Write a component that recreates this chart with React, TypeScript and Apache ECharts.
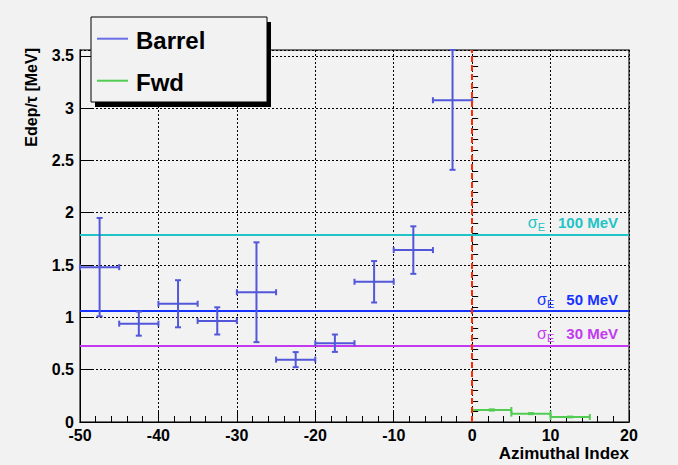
import React, { useEffect, useRef } from "react";
import * as echarts from "echarts";

// ---- data ----
const barrelX = [-47.5, -42.5, -37.5, -32.5, -27.5, -22.5, -17.5, -12.5, -7.5, -2.5];
const barrelY = [1.48, 0.94, 1.13, 0.966, 1.24, 0.596, 0.753, 1.34, 1.643, 3.075];
const barrelErr = [0.47, 0.115, 0.225, 0.13, 0.477, 0.072, 0.083, 0.198, 0.227, 0.665];
const fwdX = [2.5, 7.5, 12.5];
const fwdY = [0.115, 0.08, 0.048];
const fwdErr = [0.006, 0.005, 0.004];
const binHalfWidth = 2.5;

const sigmaLevels = [1.79, 1.065, 0.73];
const sigmaValues = ["100 MeV", "50 MeV", "30 MeV"];
const sigmaColors = ["#22c3c6", "#1733ff", "#c23af0"];

const xTicks = [-50, -40, -30, -20, -10, 0, 10, 20];
const yTicks = [0, 0.5, 1, 1.5, 2, 2.5, 3, 3.5];

const X_MIN = -50;
const X_MAX = 20;
const Y_MIN = 0;
const Y_MAX = 3.555;

const BARREL_COLOR = "#5257d9";
const FWD_COLOR = "#52cc52";
const FONT = "'Liberation Sans', Arial, Helvetica, sans-serif";

function errorBarRenderer(color: string) {
  return (params: any, api: any) => {
    const x = api.value(0);
    const y = api.value(1);
    const ex = api.value(2);
    const ey = api.value(3);
    const yTop = Math.min(y + ey, Y_MAX);
    const yBot = Math.max(y - ey, Y_MIN);
    const pL = api.coord([x - ex, y]);
    const pR = api.coord([x + ex, y]);
    const pT = api.coord([x, yTop]);
    const pB = api.coord([x, yBot]);
    const cap = 3;
    const style = { stroke: color, lineWidth: 2 };
    const seg = (x1: number, y1: number, x2: number, y2: number) => ({
      type: "line",
      shape: { x1, y1, x2, y2 },
      style,
    });
    return {
      type: "group",
      children: [
        seg(pL[0], pL[1], pR[0], pR[1]),
        seg(pT[0], pT[1], pB[0], pB[1]),
        seg(pL[0], pL[1] - cap, pL[0], pL[1] + cap),
        seg(pR[0], pR[1] - cap, pR[0], pR[1] + cap),
        seg(pT[0] - cap, pT[1], pT[0] + cap, pT[1]),
        seg(pB[0] - cap, pB[1], pB[0] + cap, pB[1]),
      ],
    };
  };
}

export default function App() {
  const ref = useRef<HTMLDivElement>(null);

  useEffect(() => {
    if (!ref.current) return;
    const chart = echarts.init(ref.current, undefined, { renderer: "svg" });

    const barrelData = barrelX.map((x, i) => [x, barrelY[i], binHalfWidth, barrelErr[i]]);
    const fwdData = fwdX.map((x, i) => [x, fwdY[i], binHalfWidth, fwdErr[i]]);

    const sigmaMarks = sigmaLevels.map((lvl, i) => ({
      yAxis: lvl,
      lineStyle: { color: sigmaColors[i], width: 2, type: "solid" },
      label: {
        show: true,
        position: "insideEndTop",
        distance: [11, 2],
        formatter: `{s|σ}{e|E}{v|${sigmaValues[i]}}`,
        rich: {
          s: { fontFamily: FONT, fontSize: 16, color: sigmaColors[i] },
          e: { fontFamily: FONT, fontSize: 11, color: sigmaColors[i], padding: [9, 0, 0, 0] },
          v: {
            fontFamily: FONT,
            fontSize: 15,
            fontWeight: "bold",
            color: sigmaColors[i],
            padding: [0, 0, 0, i === 0 ? 13 : 12],
          },
        },
      },
    }));

    const option: any = {
      animation: false,
      backgroundColor: "#f2f2f2",
      grid: {
        left: 80,
        right: 49,
        top: 50,
        bottom: 43,
        show: true,
        borderColor: "#444",
        borderWidth: 1.5,
        backgroundColor: "transparent",
      },
      xAxis: {
        type: "value",
        min: X_MIN,
        max: X_MAX,
        interval: 10,
        axisLine: { show: true, onZero: false, lineStyle: { color: "#000", width: 1 } },
        axisTick: { show: true, inside: true, length: 12, lineStyle: { color: "#000" } },
        minorTick: { show: true, splitNumber: 5, length: 6, lineStyle: { color: "#000" } },
        axisLabel: {
          fontFamily: FONT,
          fontSize: 16,
          fontWeight: "bold",
          color: "#000",
          margin: 5,
          formatter: (v: number) => (xTicks.includes(v) ? String(v) : ""),
        },
        splitLine: { show: true, lineStyle: { color: "#000", type: [2, 2], width: 1 } },
        name: "Azimuthal Index",
        nameLocation: "end",
        nameGap: 0,
        nameTextStyle: {
          fontFamily: FONT,
          fontSize: 17,
          fontWeight: "bold",
          color: "#000",
          align: "right",
          verticalAlign: "top",
          padding: [23, 0, 0, 0],
        },
      },
      yAxis: [
        {
          type: "value",
          min: Y_MIN,
          max: Y_MAX,
          interval: 0.5,
          axisLine: { show: true, onZero: false, lineStyle: { color: "#000", width: 1 } },
          axisTick: { show: true, inside: true, length: 12, lineStyle: { color: "#000" } },
          axisLabel: {
            fontFamily: FONT,
            fontSize: 16,
            fontWeight: "bold",
            color: "#000",
            margin: 6,
            showMaxLabel: false,
            formatter: (v: number) => (yTicks.some((t) => Math.abs(t - v) < 1e-6) ? String(v) : ""),
          },
          splitLine: { show: true, lineStyle: { color: "#000", type: [2, 2], width: 1 } },
        },
        {
          type: "value",
          min: Y_MIN,
          max: Y_MAX,
          interval: 0.1,
          position: "left",
          axisLine: { show: false },
          axisTick: { show: true, inside: true, length: 6, lineStyle: { color: "#000" } },
          axisLabel: { show: false },
          splitLine: { show: false },
        },
      ],
      series: [
        {
          name: "Barrel",
          type: "custom",
          renderItem: errorBarRenderer(BARREL_COLOR),
          encode: { x: 0, y: 1 },
          data: barrelData,
          clip: false,
          z: 5,
          markLine: {
            silent: true,
            symbol: "none",
            data: sigmaMarks,
            z: 3,
          },
        },
        {
          name: "Fwd",
          type: "custom",
          renderItem: errorBarRenderer(FWD_COLOR),
          encode: { x: 0, y: 1 },
          data: fwdData,
          z: 5,
          markLine: {
            silent: true,
            symbol: "none",
            label: { show: false },
            data: [{ xAxis: 0 }],
            lineStyle: { color: "#ff2a00", width: 2, type: [6, 3] },
            z: 6,
          },
        },
      ],
      graphic: [
        { type: "rect", shape: { x: 95, y: 22, width: 176, height: 85 }, style: { fill: "#000" }, z: 50 },
        {
          type: "rect",
          shape: { x: 91, y: 17, width: 176, height: 85 },
          style: { fill: "#f2f2f2", stroke: "#000", lineWidth: 1 },
          z: 51,
        },
        {
          type: "line",
          shape: { x1: 97, y1: 38.7, x2: 128, y2: 38.7 },
          style: { stroke: "#6a6ee6", lineWidth: 2 },
          z: 52,
        },
        {
          type: "line",
          shape: { x1: 97, y1: 80.7, x2: 128, y2: 80.7 },
          style: { stroke: FWD_COLOR, lineWidth: 2 },
          z: 52,
        },
        {
          type: "text",
          x: 136,
          y: 40.7,
          style: {
            text: "Barrel",
            fontFamily: FONT,
            fontSize: 24,
            fontWeight: "bold",
            fill: "#000",
            verticalAlign: "middle",
          },
          z: 52,
        },
        {
          type: "text",
          x: 136,
          y: 82.5,
          style: {
            text: "Fwd",
            fontFamily: FONT,
            fontSize: 24,
            fontWeight: "bold",
            fill: "#000",
            verticalAlign: "middle",
          },
          z: 52,
        },
        {
          type: "text",
          x: 31,
          y: 48,
          rotation: Math.PI / 2,
          style: {
            text: "Edep/τ [MeV]",
            fontFamily: FONT,
            fontSize: 16,
            fontWeight: "bold",
            fill: "#000",
            align: "right",
            verticalAlign: "middle",
          },
          z: 52,
        },
      ],
    };

    chart.setOption(option);
    return () => chart.dispose();
  }, []);

  return (
    <div
      ref={ref}
      style={{ position: "absolute", left: 0, top: 0, width: 678, height: 465, background: "#f2f2f2" }}
    />
  );
}
